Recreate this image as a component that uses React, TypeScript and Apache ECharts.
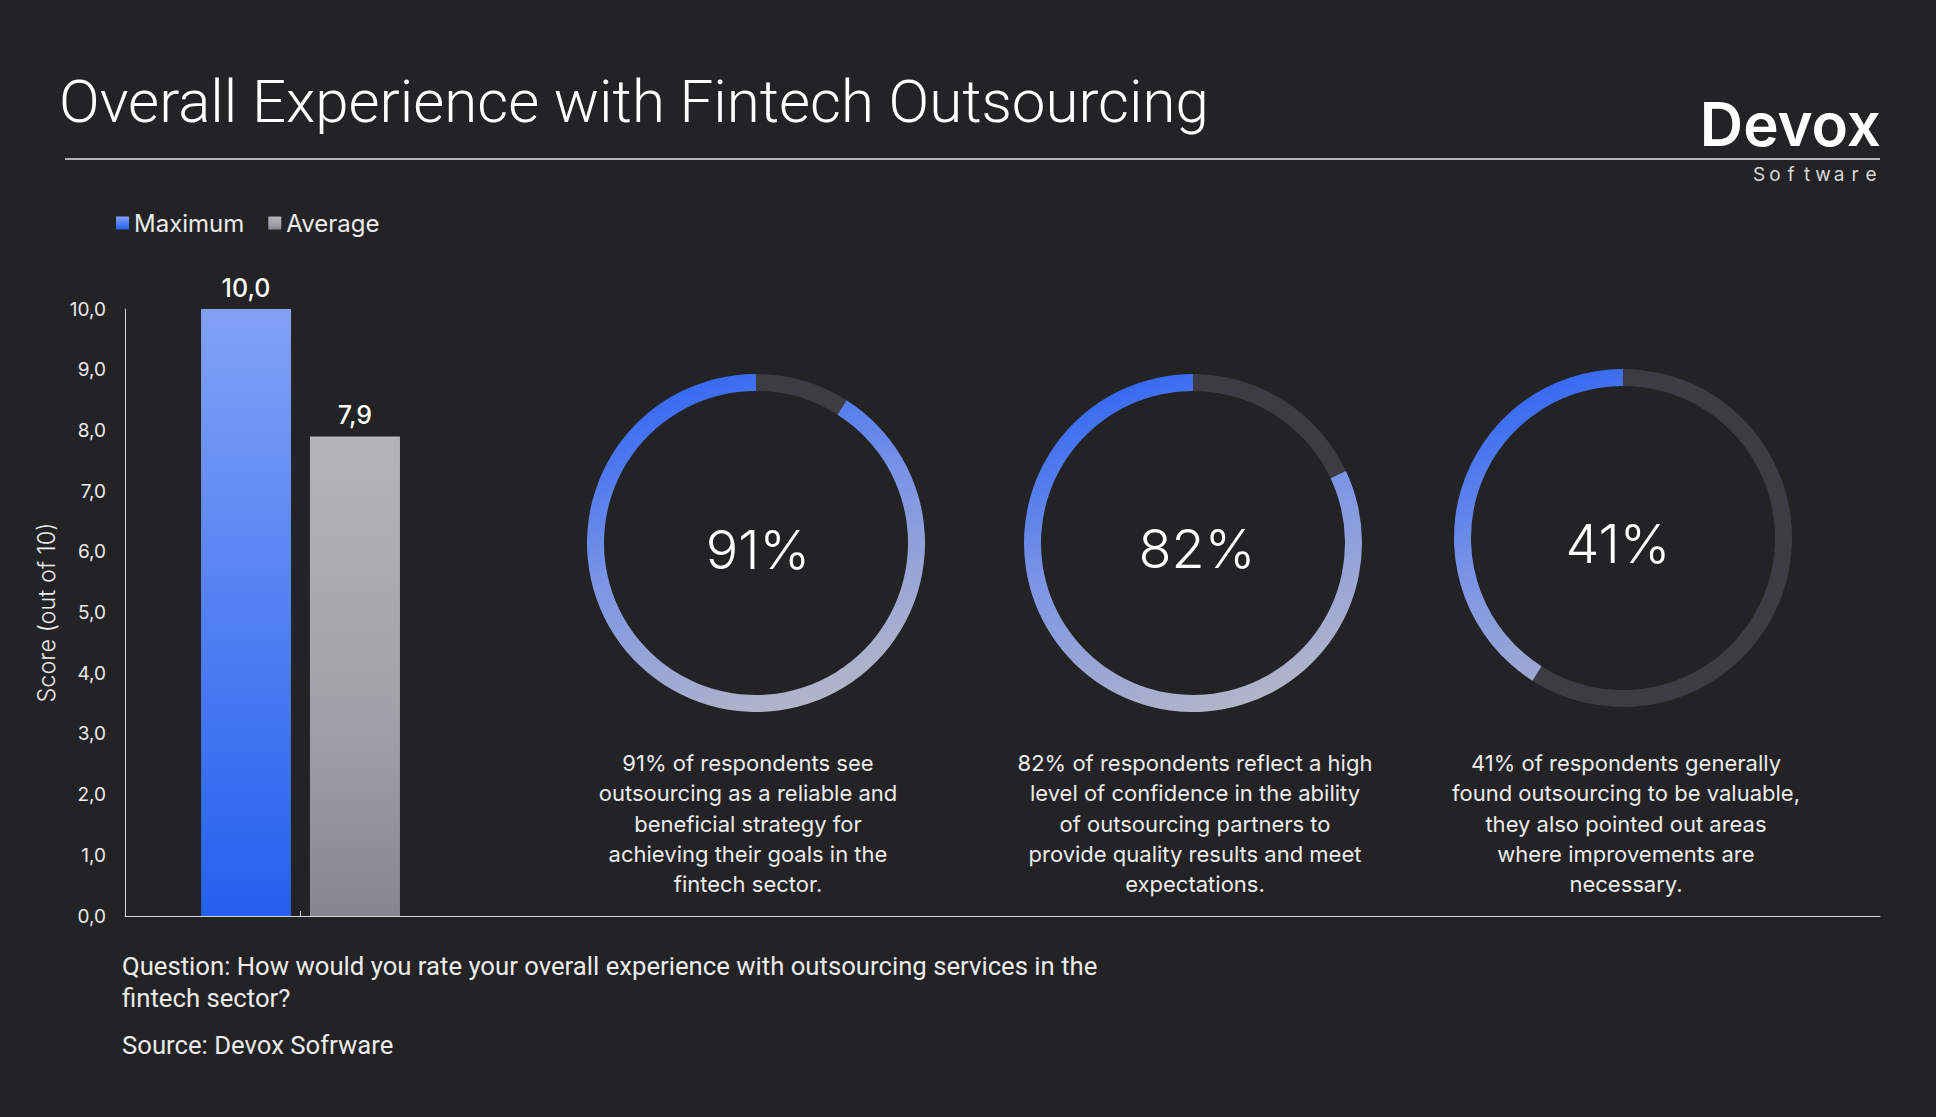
import React, { useEffect, useRef } from "react";
import * as echarts from "echarts";

// ---------- data ----------
const titleText = "Overall Experience with Fintech Outsourcing";
const categories = ["Overall experience"];
const emptyCategories = ["", "", "", ""];
const seriesNames = ["Maximum", "Average"];
const maximumValues = [10.0];
const averageValues = [7.9];
const yMin = 0;
const yMax = 10;
const yStep = 1;
const yAxisName = "Score (out of 10)";
const donutValues = [91, 82, 41];
const donutCaptions = [
  "91% of respondents see\noutsourcing as a reliable and\nbeneficial strategy for\nachieving their goals in the\nfintech sector.",
  "82% of respondents reflect a high\nlevel of confidence in the ability\nof outsourcing partners to\nprovide quality results and meet\nexpectations.",
  "41% of respondents generally\nfound outsourcing to be valuable,\nthey also pointed out areas\nwhere improvements are\nnecessary.",
];
const questionText =
  "Question: How would you rate your overall experience with outsourcing services in the\nfintech sector?";
const sourceText = "Source: Devox Sofrware";
const logoText = "Devox";
const logoSubText = "Software";

// ---------- layout / style ----------
const W = 1936;
const H = 1117;
const BG = "#232325";
const TEXT = "#ececec";
const AXIS = "#d6d6d6";
const TRACK = "#3c3c42";
const donutCenters = [
  [756, 543],
  [1193, 543],
  [1623, 538],
];
const donutLabelPos = [
  [758, 549],
  [1197, 548],
  [1618, 543],
];
const captionX = [748, 1195, 1626];
const R_OUT = 169;
const R_IN = 152;

const fmt = (v: number) => v.toFixed(1).replace(".", ",");

function donutGradient(cx: number, cy: number) {
  return new echarts.graphic.LinearGradient(
    cx - 60,
    cy - R_OUT,
    cx + 60,
    cy + R_OUT,
    [
      { offset: 0, color: "#3468f3" },
      { offset: 0.45, color: "#7a94e6" },
      { offset: 1, color: "#b6b6c6" },
    ],
    true
  );
}

export default function App() {
  const ref = useRef<HTMLDivElement>(null);

  useEffect(() => {
    document.body.style.margin = "0";
    document.body.style.background = BG;
    if (!ref.current) return;
    const chart = echarts.init(ref.current, undefined, { renderer: "svg", width: W, height: H });

    const pieSeries = donutValues.map((v, i) => ({
      type: "pie",
      name: "donut" + i,
      center: donutCenters[i],
      radius: [R_IN, R_OUT],
      startAngle: 90,
      clockwise: true,
      silent: true,
      avoidLabelOverlap: false,
      label: { show: false },
      labelLine: { show: false },
      emphasis: { disabled: true },
      data: [
        { name: "rest" + i, value: 100 - v, itemStyle: { color: TRACK } },
        { name: "share" + i, value: v, itemStyle: { color: donutGradient(donutCenters[i][0], donutCenters[i][1]) } },
      ],
    }));

    const letterPitch = 16;
    const logoRight = 1879;
    const logoLetters = logoSubText.split("").map((ch, i) => ({
      type: "text",
      style: {
        text: ch,
        x: logoRight - letterPitch * (logoSubText.length - i) + letterPitch / 2,
        y: 174,
        textAlign: "center",
        textVerticalAlign: "middle",
        fontFamily: "Inter",
        fontSize: 19,
        fontWeight: 400,
        fill: "#d8d8d8",
      },
    }));

    const option: any = {
      animation: false,
      backgroundColor: BG,
      textStyle: { fontFamily: "Inter" },
      legend: {
        data: seriesNames,
        left: 111,
        top: 206,
        icon: "rect",
        itemWidth: 13,
        itemHeight: 13,
        itemGap: 24,
        textStyle: { color: TEXT, fontSize: 24, fontFamily: "Inter" },
        selectedMode: false,
      },
      grid: { left: 125, right: 56, top: 309, bottom: H - 916, containLabel: false },
      xAxis: {
        type: "category",
        data: [...categories, ...emptyCategories],
        axisLine: { show: true, lineStyle: { color: AXIS, width: 1 } },
        axisTick: {
          show: true,
          inside: true,
          length: 5,
          alignWithLabel: true,
          interval: (idx: number) => idx === 0,
          lineStyle: { color: AXIS },
        },
        axisLabel: { show: false },
        splitLine: { show: false },
      },
      yAxis: {
        type: "value",
        min: yMin,
        max: yMax,
        interval: yStep,
        name: yAxisName,
        nameLocation: "middle",
        nameGap: 67,
        nameTextStyle: { color: TEXT, fontSize: 23.5, fontFamily: "Inter", fontWeight: 300 },
        axisLine: { show: true, lineStyle: { color: AXIS, width: 1 } },
        axisTick: { show: false },
        splitLine: { show: false },
        axisLabel: {
          color: TEXT,
          fontSize: 19,
          margin: 19,
          fontFamily: "Inter",
          formatter: (v: number) => fmt(v),
        },
      },
      series: [
        {
          type: "bar",
          name: seriesNames[0],
          data: maximumValues,
          barWidth: 90,
          barGap: "21%",
          itemStyle: {
            color: new echarts.graphic.LinearGradient(0, 0, 0, 1, [
              { offset: 0, color: "#81a1f6" },
              { offset: 1, color: "#2560f0" },
            ]),
          },
          label: {
            show: true,
            position: "top",
            distance: 9,
            color: "#ffffff",
            fontSize: 25,
            fontWeight: 500,
            fontFamily: "Inter",
            formatter: (p: any) => fmt(p.value),
          },
        },
        {
          type: "bar",
          name: seriesNames[1],
          data: averageValues,
          barWidth: 90,
          itemStyle: {
            color: new echarts.graphic.LinearGradient(0, 0, 0, 1, [
              { offset: 0, color: "#b4b4b9" },
              { offset: 0.6, color: "#a0a0a8" },
              { offset: 1, color: "#86868f" },
            ]),
          },
          label: {
            show: true,
            position: "top",
            distance: 9,
            color: "#ffffff",
            fontSize: 25,
            fontWeight: 500,
            fontFamily: "Inter",
            formatter: (p: any) => fmt(p.value),
          },
        },
        ...pieSeries,
      ],
      graphic: [
        {
          type: "text",
          style: {
            text: titleText,
            x: 59,
            y: 101,
            textVerticalAlign: "middle",
            fontFamily: "Roboto",
            fontWeight: 300,
            fontSize: 60,
            fill: "#ffffff",
          },
        },
        {
          type: "line",
          shape: { x1: 65, y1: 159, x2: 1880, y2: 159 },
          style: { stroke: "#e4e4e4", lineWidth: 1.5 },
        },
        {
          type: "text",
          style: {
            text: logoText,
            x: 1881,
            y: 124,
            textAlign: "right",
            textVerticalAlign: "middle",
            fontFamily: "Inter",
            fontWeight: 600,
            fontSize: 60,
            fill: "#ffffff",
          },
        },
        ...logoLetters,
        ...donutValues.map((v, i) => ({
          type: "text",
          style: {
            text: v + "%",
            x: donutLabelPos[i][0],
            y: donutLabelPos[i][1],
            textAlign: "center",
            textVerticalAlign: "middle",
            fontFamily: "Inter",
            fontWeight: 300,
            fontSize: 54,
            fill: "#ffffff",
          },
        })),
        ...donutCaptions.map((t, i) => ({
          type: "text",
          style: {
            text: t,
            x: captionX[i],
            y: 748,
            textAlign: "center",
            textVerticalAlign: "top",
            fontFamily: "Inter",
            fontSize: 22,
            lineHeight: 30.3,
            fill: TEXT,
          },
        })),
        {
          type: "text",
          style: {
            text: questionText,
            x: 122,
            y: 950,
            textVerticalAlign: "top",
            fontFamily: "Roboto",
            fontSize: 25.7,
            lineHeight: 32,
            fill: TEXT,
          },
        },
        {
          type: "text",
          style: {
            text: sourceText,
            x: 122,
            y: 1045,
            textVerticalAlign: "middle",
            fontFamily: "Roboto",
            fontSize: 25.7,
            fill: TEXT,
          },
        },
      ],
    };

    chart.setOption(option);
    return () => chart.dispose();
  }, []);

  return (
    <div
      ref={ref}
      style={{ width: W, height: H, position: "fixed", left: 0, top: 0, background: BG }}
    />
  );
}
